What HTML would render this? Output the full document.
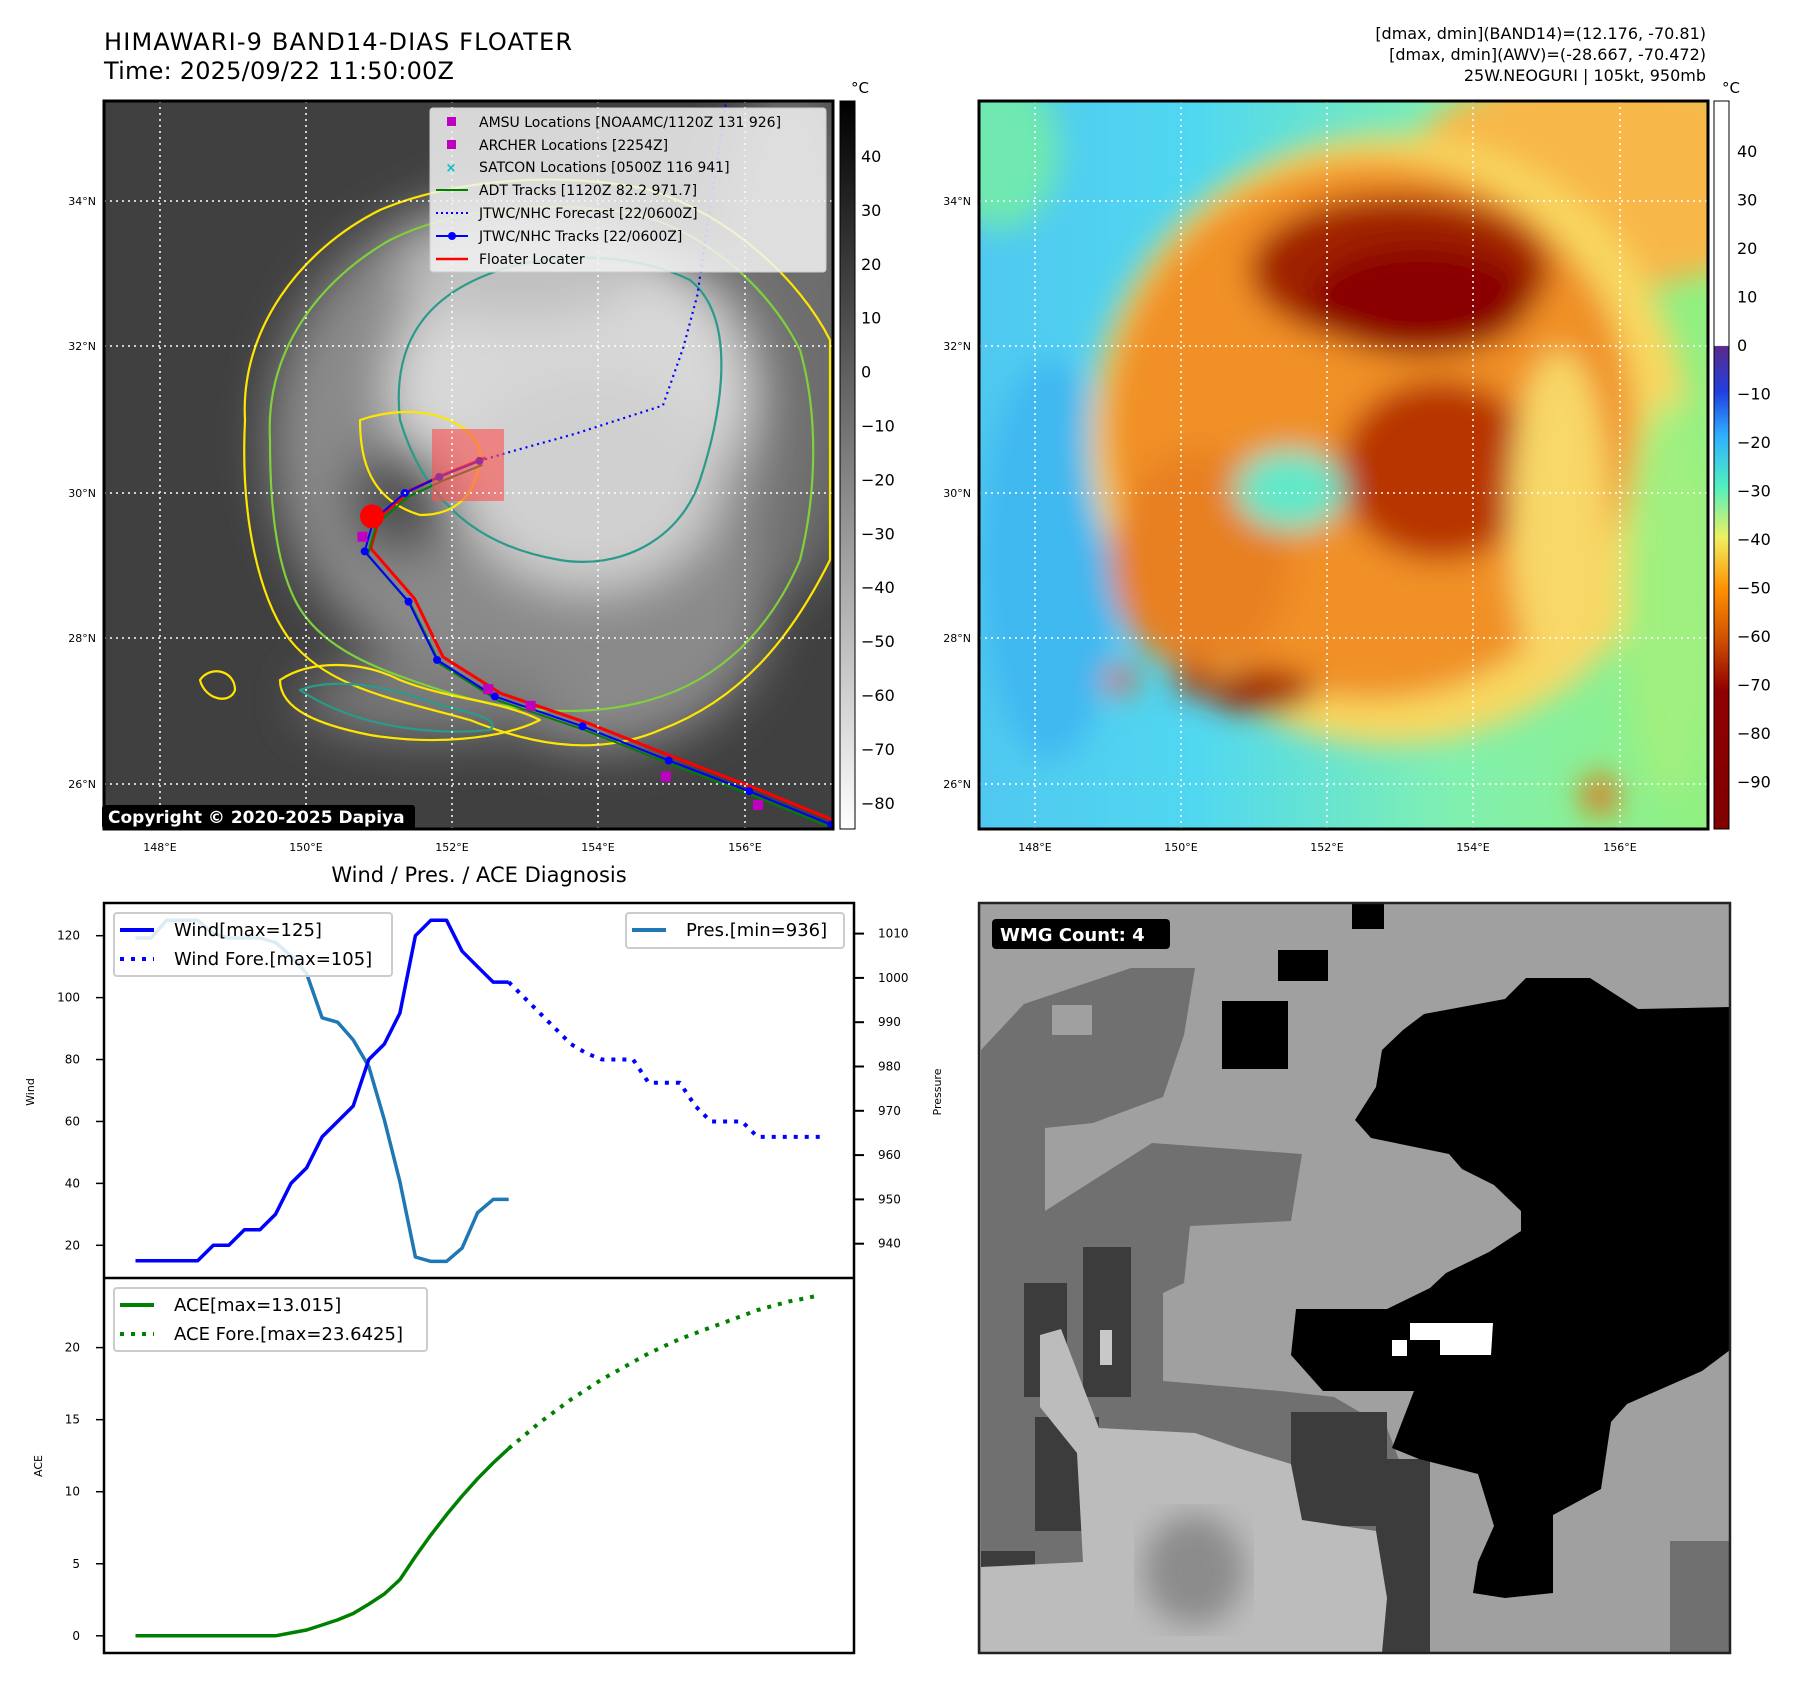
<!DOCTYPE html>
<html><head><meta charset="utf-8"><style>
html,body{margin:0;padding:0;background:#fff;}
svg{display:block;font-family:"DejaVu Sans","Liberation Sans",sans-serif;}
</style></head><body>
<svg id="root" width="1797" height="1690" viewBox="0 0 1797 1690" xmlns="http://www.w3.org/2000/svg">
<defs>
<clipPath id="clipL"><rect x="104" y="101" width="729" height="728"/></clipPath>
<clipPath id="clipR"><rect x="979" y="101" width="729" height="728"/></clipPath>
<clipPath id="clipB"><rect x="979" y="903" width="751" height="750"/></clipPath>
<filter id="b8"><feGaussianBlur stdDeviation="8"/></filter>
<filter id="b15"><feGaussianBlur stdDeviation="15"/></filter>
<filter id="b30"><feGaussianBlur stdDeviation="25"/></filter>
<linearGradient id="cbL" x1="0" y1="0" x2="0" y2="1"><stop offset="0" stop-color="#000"/><stop offset="1" stop-color="#fff"/></linearGradient>
<linearGradient id="cbR" x1="0" y1="0" x2="0" y2="1">
<stop offset="0" stop-color="#fff"/><stop offset="0.336" stop-color="#fff"/>
<stop offset="0.337" stop-color="#5a2a8a"/><stop offset="0.40" stop-color="#2040e0"/>
<stop offset="0.46" stop-color="#30b0ff"/><stop offset="0.53" stop-color="#50f0c0"/>
<stop offset="0.60" stop-color="#f0f060"/><stop offset="0.67" stop-color="#ff9000"/>
<stop offset="0.74" stop-color="#d05000"/><stop offset="0.81" stop-color="#900000"/>
<stop offset="1" stop-color="#800000"/></linearGradient>
<linearGradient id="bgR" x1="0" y1="0" x2="1" y2="0"><stop offset="0" stop-color="#50c8f0"/><stop offset="0.3" stop-color="#50d8f0"/><stop offset="0.65" stop-color="#80f0b0"/><stop offset="1" stop-color="#90f080"/></linearGradient>
</defs>

<text x="104" y="50" font-size="24" textLength="468">HIMAWARI-9 BAND14-DIAS FLOATER</text>
<text x="104" y="79" font-size="24" textLength="350">Time: 2025/09/22 11:50:00Z</text>
<g font-size="16" text-anchor="end">
<text x="1706" y="39">[dmax, dmin](BAND14)=(12.176, -70.81)</text>
<text x="1706" y="60">[dmax, dmin](AWV)=(-28.667, -70.472)</text>
<text x="1706" y="81">25W.NEOGURI | 105kt, 950mb</text>
</g>

<!-- LEFT MAP -->
<g clip-path="url(#clipL)">
<rect x="104" y="101" width="729" height="728" fill="#404040"/>
<g filter="url(#b30)">
<ellipse cx="790" cy="330" rx="80" ry="260" fill="#6e6e6e"/>
<ellipse cx="520" cy="440" rx="250" ry="250" fill="#8a8a8a"/>
<ellipse cx="600" cy="600" rx="170" ry="150" fill="#8a8a8a"/>
<ellipse cx="430" cy="700" rx="130" ry="40" fill="#7a7a7a"/>
<ellipse cx="570" cy="390" rx="180" ry="150" fill="#d8d8d8"/>
<ellipse cx="590" cy="480" rx="130" ry="110" fill="#d0d0d0"/>
<ellipse cx="400" cy="500" rx="55" ry="55" fill="#505050"/>
<ellipse cx="520" cy="270" rx="120" ry="50" fill="#c0c0c0"/>
</g>
<g fill="none" stroke-width="2.2" stroke-linejoin="round">
<path d="M245,420 C240,330 300,250 380,210 C450,180 560,170 650,190 C730,215 800,280 830,340 L830,560 C790,640 740,700 660,730 C590,760 520,740 470,720 C400,700 330,690 290,640 C260,600 240,520 245,420Z" stroke="#ffe600"/>
<path d="M270,440 C265,350 320,280 390,240 C460,205 560,200 640,215 C710,235 770,290 800,350 C820,420 815,500 800,560 C770,630 720,680 650,700 C580,720 500,710 440,690 C380,670 320,650 295,600 C275,560 270,500 270,440Z" stroke="#7fd13b"/>
<path d="M400,420 C390,330 440,290 500,270 C560,250 640,255 690,280 C740,320 720,420 700,480 C680,540 620,570 560,560 C500,550 430,520 400,420Z" stroke="#2a9a8a"/>
<path d="M360,420 C360,460 370,500 420,515 C460,515 480,490 480,450 C470,420 420,400 360,420Z" stroke="#ffe600"/>
<path d="M280,680 C310,660 360,660 400,680 C450,700 500,700 540,720 C500,740 430,745 370,735 C320,725 280,710 280,680Z" stroke="#ffe600"/>
<path d="M300,690 C340,675 400,690 440,705 C480,715 500,720 490,730 C440,735 360,730 300,690Z" stroke="#2a9a8a"/>
<path d="M200,680 C210,665 235,670 235,690 C230,705 205,700 200,680Z" stroke="#ffe600"/>
</g>
<g id="leftMarks"></g>
<rect x="432" y="429" width="72" height="72" fill="#ff5050" opacity="0.6"/>
<g stroke="#fff" stroke-width="1.5" stroke-dasharray="2 4" fill="none">
<line x1="160" y1="101" x2="160" y2="829"/><line x1="306" y1="101" x2="306" y2="829"/><line x1="452" y1="101" x2="452" y2="829"/><line x1="598" y1="101" x2="598" y2="829"/><line x1="745" y1="101" x2="745" y2="829"/>
<line x1="104" y1="201" x2="833" y2="201"/><line x1="104" y1="346" x2="833" y2="346"/><line x1="104" y1="493" x2="833" y2="493"/><line x1="104" y1="638" x2="833" y2="638"/><line x1="104" y1="784" x2="833" y2="784"/>
</g>
</g>
<rect x="104" y="101" width="729" height="728" fill="none" stroke="#000" stroke-width="3"/>
<rect x="102" y="805" width="313" height="24" rx="3" fill="#000"/>
<text x="108" y="823" font-size="17" font-weight="bold" fill="#fff">Copyright © 2020-2025 Dapiya</text>

<g>
<rect x="430" y="108" width="396" height="164" rx="3" fill="#f2f2f2" fill-opacity="0.85" stroke="#ccc"/>
<g font-size="14">
<rect x="447" y="117" width="9" height="9" fill="#c000c0"/><text x="479" y="127">AMSU Locations [NOAAMC/1120Z 131 926]</text>
<rect x="447" y="140" width="9" height="9" fill="#c000c0"/><text x="479" y="150">ARCHER Locations [2254Z]</text>
<text x="451" y="172" fill="#00c0c0" text-anchor="middle" font-size="13" font-weight="bold">×</text><text x="479" y="172">SATCON Locations [0500Z 116 941]</text>
<line x1="436" y1="190" x2="468" y2="190" stroke="#008000" stroke-width="2"/><text x="479" y="195">ADT Tracks [1120Z 82.2 971.7]</text>
<line x1="436" y1="213" x2="468" y2="213" stroke="#0000ff" stroke-width="2" stroke-dasharray="2 3"/><text x="479" y="218">JTWC/NHC Forecast [22/0600Z]</text>
<line x1="436" y1="236" x2="468" y2="236" stroke="#0000ff" stroke-width="2"/><circle cx="452" cy="236" r="4" fill="#0000ff"/><text x="479" y="241">JTWC/NHC Tracks [22/0600Z]</text>
<line x1="436" y1="259" x2="468" y2="259" stroke="#ff0000" stroke-width="2.5"/><text x="479" y="264">Floater Locater</text>
</g></g>

<g font-size="11" text-anchor="end">
<text x="96" y="205">34°N</text><text x="96" y="350">32°N</text><text x="96" y="497">30°N</text><text x="96" y="642">28°N</text><text x="96" y="788">26°N</text>
</g>
<g font-size="11" text-anchor="middle">
<text x="160" y="851">148°E</text><text x="306" y="851">150°E</text><text x="452" y="851">152°E</text><text x="598" y="851">154°E</text><text x="745" y="851">156°E</text>
</g>
<rect x="840" y="101" width="15" height="728" fill="url(#cbL)" stroke="#000" stroke-width="1"/>
<text x="851" y="93" font-size="15">°C</text>
<g id="cbLticks" font-size="16"></g>

<!-- RIGHT MAP -->
<g clip-path="url(#clipR)">
<rect x="979" y="101" width="729" height="728" fill="url(#bgR)"/>
<g filter="url(#b15)">
<ellipse cx="1000" cy="150" rx="60" ry="80" fill="#70e8b0"/>
<ellipse cx="1050" cy="560" rx="70" ry="200" fill="#40b8f0"/>
<ellipse cx="1600" cy="180" rx="200" ry="110" fill="#f8b848"/>
<ellipse cx="1390" cy="440" rx="300" ry="305" fill="#f8d860"/>
<ellipse cx="1370" cy="430" rx="265" ry="270" fill="#f09028"/>
<ellipse cx="1200" cy="560" rx="90" ry="110" fill="#e88020"/>
<ellipse cx="1400" cy="270" rx="150" ry="75" fill="#a02000"/>
<ellipse cx="1420" cy="300" rx="110" ry="55" fill="#8a0000"/>
<ellipse cx="1440" cy="470" rx="100" ry="90" fill="#b83400"/>
<ellipse cx="1290" cy="490" rx="55" ry="40" fill="#60e8c8"/>
<ellipse cx="1560" cy="520" rx="50" ry="170" fill="#f8d868"/>
<ellipse cx="1670" cy="600" rx="45" ry="200" fill="#a0f080"/>
<ellipse cx="1260" cy="690" rx="55" ry="22" fill="#a02000"/>
<ellipse cx="1195" cy="680" rx="20" ry="15" fill="#b02800"/>
<ellipse cx="1120" cy="680" rx="16" ry="14" fill="#e06000"/>
<ellipse cx="1600" cy="795" rx="18" ry="20" fill="#e07010"/>
</g>
<g stroke="#fff" stroke-width="1.5" stroke-dasharray="2 4" fill="none">
<line x1="1035" y1="101" x2="1035" y2="829"/><line x1="1181" y1="101" x2="1181" y2="829"/><line x1="1327" y1="101" x2="1327" y2="829"/><line x1="1473" y1="101" x2="1473" y2="829"/><line x1="1620" y1="101" x2="1620" y2="829"/>
<line x1="979" y1="201" x2="1708" y2="201"/><line x1="979" y1="346" x2="1708" y2="346"/><line x1="979" y1="493" x2="1708" y2="493"/><line x1="979" y1="638" x2="1708" y2="638"/><line x1="979" y1="784" x2="1708" y2="784"/>
</g>
</g>
<rect x="979" y="101" width="729" height="728" fill="none" stroke="#000" stroke-width="3"/>
<g font-size="11" text-anchor="end">
<text x="971" y="205">34°N</text><text x="971" y="350">32°N</text><text x="971" y="497">30°N</text><text x="971" y="642">28°N</text><text x="971" y="788">26°N</text>
</g>
<g font-size="11" text-anchor="middle">
<text x="1035" y="851">148°E</text><text x="1181" y="851">150°E</text><text x="1327" y="851">152°E</text><text x="1473" y="851">154°E</text><text x="1620" y="851">156°E</text>
</g>
<rect x="1714" y="101" width="15" height="728" fill="url(#cbR)" stroke="#000" stroke-width="1"/>
<text x="1722" y="93" font-size="15">°C</text>
<g id="cbRticks" font-size="16"></g>

<!-- BOTTOM RIGHT WMG -->
<g clip-path="url(#clipB)">
<rect x="979" y="903" width="751" height="750" fill="#a0a0a0"/>
<polygon fill="#707070" points="981,1050 1024,1004 1131,968 1195,968 1184,1035 1163,1097 1093,1123 1045,1128 1045,1211 1152,1143 1302,1154 1291,1221 1190,1226 1184,1283 1163,1293 1163,1381 1280,1391 1334,1397 1387,1428 1414,1500 1430,1551 1419,1653 981,1653"/>
<rect x="1052" y="1005" width="40" height="30" fill="#a0a0a0"/>
<rect x="1670" y="1541" width="60" height="112" fill="#707070"/>
<g fill="#3c3c3c">
<rect x="1024" y="1283" width="43" height="114"/><rect x="1083" y="1247" width="48" height="150"/>
<rect x="1035" y="1417" width="64" height="114"/><rect x="1291" y="1412" width="96" height="114"/>
<rect x="1376" y="1459" width="54" height="194"/><rect x="981" y="1551" width="54" height="21"/>
</g>
<polygon fill="#bcbcbc" points="1040,1335 1061,1329 1099,1428 1195,1433 1238,1448 1291,1464 1302,1520 1376,1531 1387,1598 1382,1653 981,1653 981,1567 1083,1562 1077,1453 1040,1407"/>
<ellipse cx="1194" cy="1570" rx="50" ry="55" fill="#8c8c8c" filter="url(#b15)"/>
<rect x="1100" y="1330" width="12" height="35" fill="#c8c8c8"/>
<polygon fill="#000" points="1526,978 1590,978 1638,1009 1730,1007 1730,1350 1702,1371 1627,1404 1611,1422 1601,1489 1553,1515 1553,1593 1505,1598 1473,1593 1478,1562 1494,1526 1478,1474 1419,1459 1392,1448 1414,1391 1323,1391 1291,1355 1296,1309 1387,1309 1430,1288 1446,1273 1489,1252 1521,1231 1521,1211 1494,1185 1462,1169 1449,1154 1371,1138 1355,1120 1376,1087 1382,1050 1403,1030 1424,1014 1505,999"/>
<polygon fill="#fff" points="1410,1323 1493,1323 1491,1355 1440,1355 1440,1340 1410,1340"/>
<rect x="1392" y="1340" width="15" height="16" fill="#fff"/>
<rect x="1222" y="1001" width="66" height="68" fill="#000"/>
<rect x="1352" y="903" width="32" height="26" fill="#000"/>
<rect x="1278" y="950" width="50" height="31" fill="#000"/>
</g>
<rect x="979" y="903" width="751" height="750" fill="none" stroke="#222" stroke-width="2.5"/>
<rect x="992" y="919" width="178" height="30" rx="4" fill="#000"/>
<text x="1000" y="941" font-size="18" font-weight="bold" fill="#fff">WMG Count: 4</text>

<!-- BOTTOM LEFT CHART -->
<text x="479" y="882" font-size="21" text-anchor="middle">Wind / Pres. / ACE Diagnosis</text>
<g id="chart"></g>
<rect x="104" y="903" width="750" height="750" fill="none" stroke="#000" stroke-width="2.5"/>
<line x1="104" y1="1278" x2="854" y2="1278" stroke="#000" stroke-width="2.5"/>
</svg>
<script>
const windObs=[15,15,15,15,15,20,20,25,25,30,40,45,55,60,65,80,85,95,120,125,125,115,110,105,105];
const windFore=[105,100,95,90,85,82,80,80,80,72.5,72.5,72.5,65,60,60,60,55,55,55,55,55];
const presObs=[1009,1009,1013,1013,1013,1010,1009,1009,1009,1008,1005,1001,991,990,986,980,968,954,937,936,936,939,947,950,950];
const aceObs=[0,0,0,0,0,0,0,0,0,0,0.2,0.4,0.75,1.1,1.55,2.2,2.9,3.9,5.5,7.0,8.4,9.7,10.9,12.0,13.0];
const aceFore=[13.0,13.9,14.8,15.6,16.4,17.1,17.8,18.4,19.0,19.6,20.1,20.6,21.0,21.4,21.8,22.2,22.6,22.9,23.2,23.4,23.64];
const windTicks=[20,40,60,80,100,120];
const presTicks=[940,950,960,970,980,990,1000,1010];
const aceTicks=[0,5,10,15,20];
const cbLTicks=[40,30,20,10,0,-10,-20,-30,-40,-50,-60,-70,-80];
const cbRTicks=[40,30,20,10,0,-10,-20,-30,-40,-50,-60,-70,-80,-90];
const trackLon=[157.18,156.06,154.96,153.78,152.58,151.79,151.40,150.80,150.92,151.35,151.82,152.37];
const trackLat=[25.45,25.91,26.33,26.80,27.21,27.71,28.51,29.20,29.63,30.00,30.22,30.44];
const foreLon=[152.37,152.88,153.67,154.88,155.16,155.35,155.55,155.74];
const foreLat=[30.44,30.59,30.81,31.20,32.00,32.71,34.09,35.35];
const amsuLon=[150.77,154.92,156.18,153.07,152.49];
const amsuLat=[29.40,26.11,25.72,27.08,27.31];

const NS='http://www.w3.org/2000/svg';
function mk(tag,attrs,parent){const e=document.createElementNS(NS,tag);for(const k in attrs)e.setAttribute(k,attrs[k]);parent.appendChild(e);return e;}
const xI=i=>135.5+i*15.55;
const yW=v=>1245.3-(v-20)*3.096;
const yP=p=>1243.7-(p-940)*4.43;
const yA=a=>1635.8-a*14.41;
const lonX=l=>160+(l-148)*73.1;
const latY=l=>493-(l-30)*72.9;
const chart=document.getElementById('chart');

function line(vals,off,yf,stroke,w,dash,name){
  const pts=vals.map((v,i)=>xI(i+off).toFixed(1)+','+yf(v).toFixed(1)).join(' ');
  const a={points:pts,fill:'none',stroke:stroke,'stroke-width':w,'stroke-linejoin':'round'};
  if(dash)a['stroke-dasharray']=dash;
  const el=mk('polyline',a,chart);
  
  
}
line(presObs,0,yP,'#1f77b4',3.5,null,'pressure-line');
line(windObs,0,yW,'#0000ff',3.5,null,'wind-line');
line(windFore,24,yW,'#0000ff',4,'4 7','wind-forecast-line');
line(aceObs,0,yA,'#008000',3.5,null,'ace-line');
line(aceFore,24,yA,'#008000',4,'4 7','ace-forecast-line');

windTicks.forEach(t=>{const y=yW(t);
  const tk=mk('line',{x1:96,y1:y,x2:104,y2:y,stroke:'#000','stroke-width':1.5},chart);
  
  
  const tx=mk('text',{x:80,y:y+4,'font-size':12,'text-anchor':'end'},chart);tx.textContent=t;
  
  });
presTicks.forEach(t=>{const y=yP(t);
  const tk=mk('line',{x1:854,y1:y,x2:864,y2:y,stroke:'#000','stroke-width':2},chart);
  
  
  const tx=mk('text',{x:878,y:y+4,'font-size':12},chart);tx.textContent=t;
  
  });
aceTicks.forEach(t=>{const y=yA(t);
  const tk=mk('line',{x1:96,y1:y,x2:104,y2:y,stroke:'#000','stroke-width':1.5},chart);
  
  
  const tx=mk('text',{x:80,y:y+4,'font-size':12,'text-anchor':'end'},chart);tx.textContent=t;
  
  });
let yl=mk('text',{x:34,y:1092,'font-size':11,'text-anchor':'middle',transform:'rotate(-90 34 1092)'},chart);yl.textContent='Wind';


yl=mk('text',{x:941,y:1092,'font-size':11,'text-anchor':'middle',transform:'rotate(-90 941 1092)'},chart);yl.textContent='Pressure';


yl=mk('text',{x:42,y:1466,'font-size':11,'text-anchor':'middle',transform:'rotate(-90 42 1466)'},chart);yl.textContent='ACE';



function legend(x,y,w,h,items,name){
  const g=mk('g',{},chart);
  
  
  mk('rect',{x:x,y:y,width:w,height:h,rx:3,fill:'#fff','fill-opacity':0.85,stroke:'#ccc','stroke-width':2},g);
  items.forEach((it,k)=>{const cy=y+17+k*29;
    const a={x1:x+6,y1:cy,x2:x+40,y2:cy,stroke:it[1],'stroke-width':4};if(it[2])a['stroke-dasharray']='4 7';
    mk('line',a,g);const t=mk('text',{x:x+60,y:cy+6,'font-size':18},g);t.textContent=it[0];});
}
legend(114,913,278,63,[['Wind[max=125]','#0000ff',0],['Wind Fore.[max=105]','#0000ff',1]],'wind-legend');
legend(626,913,218,35,[['Pres.[min=936]','#1f77b4',0]],'pressure-legend');
legend(114,1288,313,63,[['ACE[max=13.015]','#008000',0],['ACE Fore.[max=23.6425]','#008000',1]],'ace-legend');

const cbl=document.getElementById('cbLticks');
cbLTicks.forEach((t,k)=>{const y=156+k*53.9;
  const tx=mk('text',{x:861,y:y+6},cbl);tx.textContent=(t<0?'\u2212'+(-t):t);
  
  });
const cbr=document.getElementById('cbRticks');
cbRTicks.forEach((t,k)=>{const y=151+k*48.5;
  const tx=mk('text',{x:1737,y:y+6},cbr);tx.textContent=(t<0?'\u2212'+(-t):t);
  
  });

const lm=document.getElementById('leftMarks');
const tp=trackLon.map((l,i)=>lonX(l).toFixed(1)+','+latY(trackLat[i]).toFixed(1)).join(' ');
let red=mk('polyline',{points:trackLon.map((l,i)=>(lonX(l)+6).toFixed(1)+','+(latY(trackLat[i])-3).toFixed(1)).join(' '),fill:'none',stroke:'#ff0000','stroke-width':3},lm);


let adt=mk('polyline',{points:trackLon.map((l,i)=>(lonX(l)+3).toFixed(1)+','+(latY(trackLat[i])+4).toFixed(1)).join(' '),fill:'none',stroke:'#008000','stroke-width':2},lm);


let jt=mk('polyline',{points:tp,fill:'none',stroke:'#0000ff','stroke-width':2},lm);


trackLon.forEach((l,i)=>{const c=mk('circle',{cx:lonX(l),cy:latY(trackLat[i]),r:4,fill:'#0000ff'},lm);
  
  });
let fc=mk('polyline',{points:foreLon.map((l,i)=>lonX(l).toFixed(1)+','+latY(foreLat[i]).toFixed(1)).join(' '),fill:'none',stroke:'#0000ff','stroke-width':2.2,'stroke-dasharray':'2 4'},lm);


amsuLon.forEach((l,i)=>{const r=mk('rect',{x:lonX(l)-5,y:latY(amsuLat[i])-5,width:10,height:10,fill:'#c000c0'},lm);
  
  });
let blob=mk('ellipse',{cx:lonX(150.9),cy:latY(29.68),rx:12,ry:12,fill:'#ff0000'},lm);


</script>
</body></html>
